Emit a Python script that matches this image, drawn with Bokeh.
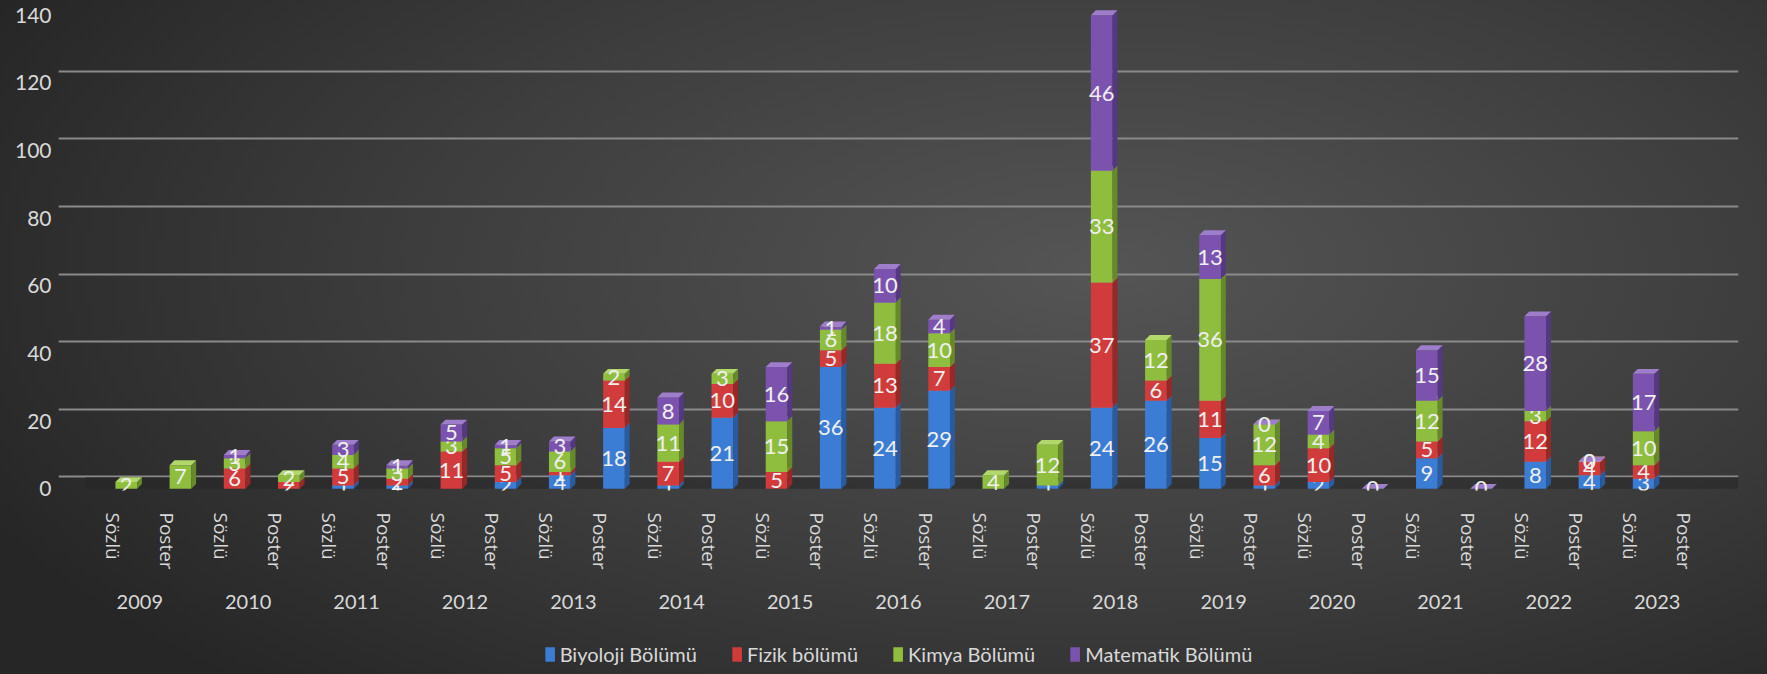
import numpy as np
from bokeh.plotting import figure
from bokeh.layouts import column
from bokeh.models import (FactorRange, ColumnDataSource, Range1d, Grid,
                          SingleIntervalTicker, Legend, LegendItem)
from bokeh.core.properties import value
from bokeh.embed import file_html
from bokeh.resources import INLINE

years = ["2009", "2010", "2011", "2012", "2013", "2014", "2015", "2016",
         "2017", "2018", "2019", "2020", "2021", "2022", "2023"]
types = ["Sözlü", "Poster"]

# one value per (year, type), order: 2009 Sözlü, 2009 Poster, 2010 Sözlü, ...
biyoloji = [None, None, None, None, 1, 1, None, 2, 4, 18, 1, 21, None, 36, 24,
            29, None, 1, 24, 26, 15, 1, 2, None, 9, None, 8, 4, 3, None]
fizik = [None, None, 6, 2, 5, 2, 11, 5, 1, 14, 7, 10, 5, 5, 13,
         7, None, None, 37, 6, 11, 6, 10, None, 5, None, 12, 4, 4, None]
kimya = [2, 7, 3, 2, 4, 3, 3, 5, 6, 2, 11, 3, 15, 6, 18,
         10, 4, 12, 33, 12, 36, 12, 4, None, 12, None, 3, 0, 10, None]
matematik = [None, None, 1, None, 3, 1, 5, 1, 3, None, 8, None, 16, 1, 10,
             4, None, None, 46, None, 13, 0, 7, 0, 15, 0, 28, 0, 17, None]

series_names = ["Biyoloji Bölümü", "Fizik bölümü", "Kimya Bölümü", "Matematik Bölümü"]
series_values = [biyoloji, fizik, kimya, matematik]
front_colors = ["#3B7DD5", "#D23B3B", "#8FBE3E", "#7B53AF"]
side_colors = ["#295B9E", "#972828", "#66892A", "#553980"]
top_colors = ["#6B9FE2", "#E26A6A", "#B2D76B", "#9E7ECB"]

y_ticks_interval = 20

TXT = "#D9D9D9"
FONT = "Lato"

factors = [(y, t) for y in years for t in types]
n = len(factors)

p = figure(x_range=FactorRange(*factors, range_padding=0.5, range_padding_units="absolute",
                               group_padding=0, factor_padding=0),
           y_range=Range1d(-0.5, 142),
           width=1767, frame_height=482,
           output_backend="svg", toolbar_location=None,
           min_border_left=58, min_border_right=29, min_border_top=8, min_border_bottom=130)
p.background_fill_alpha = 0
p.border_fill_alpha = 0
p.outline_line_color = None
p.xgrid.visible = False
p.ygrid.visible = False

# back-wall gridlines (shifted up for the 3D depth)
depth_units = 3.5
p.extra_y_ranges = {"back": Range1d(-0.5 - depth_units, 142 - depth_units)}
g = Grid(dimension=1, ticker=SingleIntervalTicker(interval=y_ticks_interval), y_range_name="back",
         grid_line_color="#8A8A8A", grid_line_width=2)
p.add_layout(g)

# floor
p.quad(left=[0], right=[n + 0.5], bottom=[0], top=[depth_units], fill_color="#262626",
       fill_alpha=0.55, line_color=None)

shift = 0.25
hw = 0.2
dx = 0.09
dy = 1.45
xc = np.arange(n) + 0.5 + shift
base = np.zeros(n)
for name, vals, fc, sc, tc in zip(series_names, series_values, front_colors, side_colors, top_colors):
    has = np.array([a is not None for a in vals])
    v = np.array([0 if a is None else a for a in vals], dtype=float)
    bot = base.copy()
    top = base + v
    pos = has & (v > 0)
    idx = np.where(pos)[0]
    p.quad(left=xc[idx] - hw, right=xc[idx] + hw, bottom=bot[idx], top=top[idx],
           fill_color=fc, line_color=None)
    p.patches(xs=[[xc[i] + hw, xc[i] + hw + dx, xc[i] + hw + dx, xc[i] + hw] for i in idx],
              ys=[[bot[i], bot[i] + dy, top[i] + dy, top[i]] for i in idx],
              fill_color=sc, line_color=None)
    idx2 = np.where(has)[0]
    p.patches(xs=[[xc[i] - hw, xc[i] - hw + dx, xc[i] + hw + dx, xc[i] + hw] for i in idx2],
              ys=[[top[i], top[i] + dy, top[i] + dy, top[i]] for i in idx2],
              fill_color=tc, line_color=None)
    lab = ColumnDataSource(dict(x=xc[idx2], y=(bot[idx2] + top[idx2]) / 2,
                                t=[str(int(v[i])) for i in idx2]))
    p.text(x="x", y="y", text="t", source=lab, text_align="center", text_baseline="middle",
           text_font=value(FONT), text_font_size="22px", text_color="#EFEFEF")
    base = top

# axes
ya = p.yaxis[0]
ya.ticker = SingleIntervalTicker(interval=y_ticks_interval)
ya.axis_line_color = None
ya.major_tick_line_color = None
ya.minor_tick_line_color = None
ya.major_tick_out = 0
ya.major_tick_in = 0
ya.minor_tick_out = 0
ya.major_label_text_font = FONT
ya.major_label_text_font_size = "21px"
ya.major_label_text_color = TXT
ya.major_label_standoff = 7

xa = p.xaxis[0]
xa.axis_line_color = None
xa.major_tick_line_color = None
xa.minor_tick_line_color = None
xa.major_tick_out = 0
xa.major_tick_in = 0
xa.separator_line_color = None
xa.major_label_orientation = "vertical"
xa.major_label_text_font = "Open Sans"
xa.major_label_text_font_size = "19px"
xa.major_label_text_color = TXT
xa.major_label_standoff = 22
xa.group_text_font = FONT
xa.group_text_font_size = "20px"
xa.group_text_font_style = "normal"
xa.group_text_color = TXT

# legend strip below the chart (swatch renderers sit outside its visible range)
lf = figure(width=1767, height=54, output_backend="svg", toolbar_location=None,
            x_axis_type=None, y_axis_type=None, x_range=(0, 1), y_range=(0, 1),
            min_border=0)
lf.background_fill_alpha = 0
lf.border_fill_alpha = 0
lf.outline_line_color = None
lf.grid.visible = False
legend_items = []
for name, fc in zip(series_names, front_colors):
    r = lf.quad(left=[-3], right=[-2], bottom=[-3], top=[-2], fill_color=fc, line_color=None)
    legend_items.append(LegendItem(label=name, renderers=[r]))
legend = Legend(items=legend_items, orientation="horizontal", location="top_center",
                glyph_width=12, glyph_height=18, label_text_font=FONT,
                label_text_font_size="20px", label_text_color=TXT, spacing=34,
                label_standoff=4, background_fill_alpha=0, border_line_color=None,
                margin=22, padding=2)
lf.add_layout(legend)

layout = column(p, lf, spacing=0)
layout.styles = {"background": "radial-gradient(ellipse 70% 85% at 62% 40%, #555555 0%, #3d3d3d 55%, #262626 100%)"}

open("out.html", "w").write(file_html(layout, INLINE))
